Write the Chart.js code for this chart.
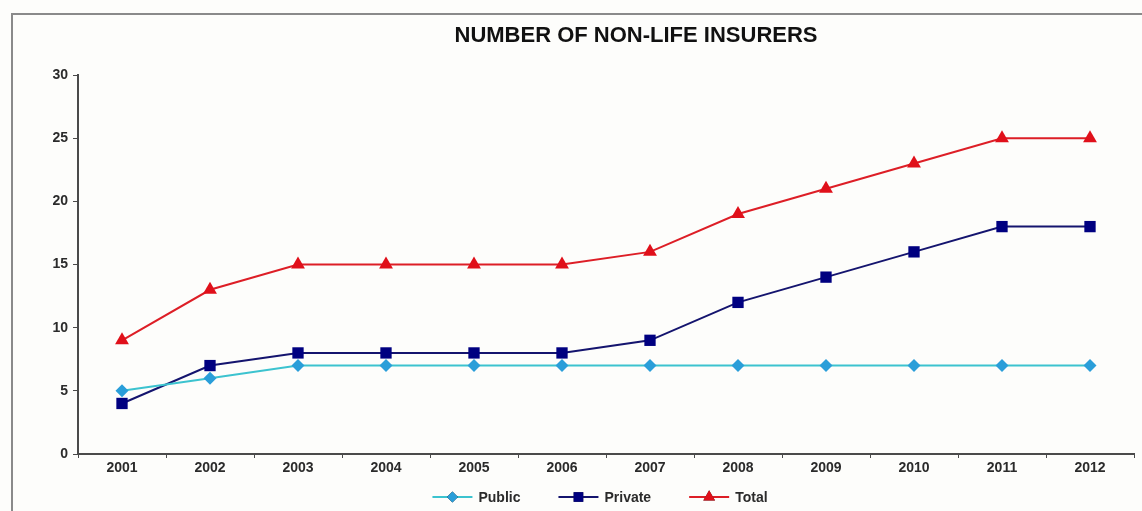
<!DOCTYPE html>
<html>
<head>
<meta charset="utf-8">
<script src="https://cdn.jsdelivr.net/npm/chart.js@4.4.1/dist/chart.umd.min.js"></script>
<style>
  html, body { margin: 0; padding: 0; background: #fdfdfb; }
  #wrap { position: relative; width: 1142px; height: 511px; overflow: hidden; }
  #frame {
    position: absolute; left: 11px; top: 13px; width: 1200px; height: 600px;
    border-left: 2px solid #8a8a8a; border-top: 2px solid #8a8a8a;
  }
  #chart { position: absolute; left: 0; top: 0; }
</style>
</head>
<body>
<div id="wrap">
  <div id="frame"></div>
  <canvas id="chart" width="1142" height="511"></canvas>
</div>
<script>
const years = ['2001', '2002', '2003', '2004', '2005', '2006', '2007', '2008', '2009', '2010', '2011', '2012'];
const publicInsurers = [5, 6, 7, 7, 7, 7, 7, 7, 7, 7, 7, 7];
const privateInsurers = [4, 7, 8, 8, 8, 8, 9, 12, 14, 16, 18, 18];
const totalInsurers = [9, 13, 15, 15, 15, 15, 16, 19, 21, 23, 25, 25];
const yTicks = [0, 5, 10, 15, 20, 25, 30];
const chartTitle = 'NUMBER OF NON-LIFE INSURERS';

const FONT = "'Liberation Sans', Arial, sans-serif";
const TEXT = '#2b2b2b';
const AXIS = '#4a4a4a';

const series = [
    {label: 'Public', data: publicInsurers, line: '#3cc3cf', fill: '#2a9ed9', style: 'rectRot', radius: 6.5},
    {label: 'Private', data: privateInsurers, line: '#14146e', fill: '#000080', style: 'rect', radius: 8},
    {label: 'Total', data: totalInsurers, line: '#dd1e26', fill: '#e0101a', style: 'triangle', radius: 8}
];

// title sits a bit right of centre, legend under the plot area: drawn by hand
const titleAndLegend = {
    id: 'titleAndLegend',
    afterDraw(chart) {
        const ctx = chart.ctx;
        const area = chart.chartArea;
        ctx.save();
        ctx.fillStyle = '#111';
        ctx.font = `bold 22px ${FONT}`;
        ctx.textAlign = 'center';
        ctx.textBaseline = 'middle';
        ctx.fillText(chartTitle, 636, 36);

        ctx.font = `bold 14px ${FONT}`;
        ctx.textAlign = 'left';
        const swatch = 40, gap = 6, spacing = 38;
        const widths = series.map(s => swatch + gap + ctx.measureText(s.label).width);
        const total = widths.reduce((a, b) => a + b, 0) + spacing * (series.length - 1);
        let x = (area.left + area.right) / 2 - 6 - total / 2;
        const y = 497;
        chart.data.datasets.forEach((ds, i) => {
            ctx.strokeStyle = ds.borderColor;
            ctx.lineWidth = 2;
            ctx.beginPath();
            ctx.moveTo(x, y);
            ctx.lineTo(x + swatch, y);
            ctx.stroke();
            Chart.helpers.drawPoint(ctx, {
                pointStyle: ds.pointStyle,
                radius: ds.pointRadius * 0.85,
                rotation: 0,
                borderWidth: 0
            }, x + swatch / 2, y);
            ctx.fillStyle = ds.pointBackgroundColor;
            ctx.fill();
            ctx.fillStyle = TEXT;
            ctx.fillText(ds.label, x + swatch + gap, y + 1);
            x += widths[i] + spacing;
        });
        ctx.restore();
    }
};

new Chart(document.getElementById('chart'), {
    type: 'line',
    data: {
        labels: years,
        datasets: series.map(s => ({
            label: s.label,
            data: s.data,
            borderColor: s.line,
            borderWidth: 2,
            backgroundColor: s.fill,
            pointStyle: s.style,
            pointRadius: s.radius,
            pointHoverRadius: s.radius,
            pointBackgroundColor: s.fill,
            pointBorderColor: s.fill,
            pointBorderWidth: 0,
            tension: 0,
            fill: false
        }))
    },
    options: {
        responsive: false,
        animation: false,
        layout: {padding: {left: 0, right: 8, top: 75, bottom: 31}},
        plugins: {
            title: {display: false},
            legend: {display: false},
            tooltip: {enabled: false}
        },
        scales: {
            x: {
                offset: true,
                grid: {offset: true, drawOnChartArea: false, drawTicks: true, tickLength: 4, color: AXIS},
                border: {color: AXIS, width: 2},
                ticks: {color: TEXT, font: {family: FONT, size: 14, weight: 'bold'}, padding: 2, maxRotation: 0},
                afterFit: scale => { scale.height = 26; }
            },
            y: {
                min: 0,
                max: 30,
                afterBuildTicks: scale => { scale.ticks = yTicks.map(v => ({value: v})); },
                grid: {drawOnChartArea: false, drawTicks: true, tickLength: 5, color: AXIS},
                border: {color: AXIS, width: 2},
                ticks: {color: TEXT, font: {family: FONT, size: 14, weight: 'bold'}, padding: 5},
                afterFit: scale => { scale.width = 78; }
            }
        }
    },
    plugins: [titleAndLegend]
});
</script>
</body>
</html>
